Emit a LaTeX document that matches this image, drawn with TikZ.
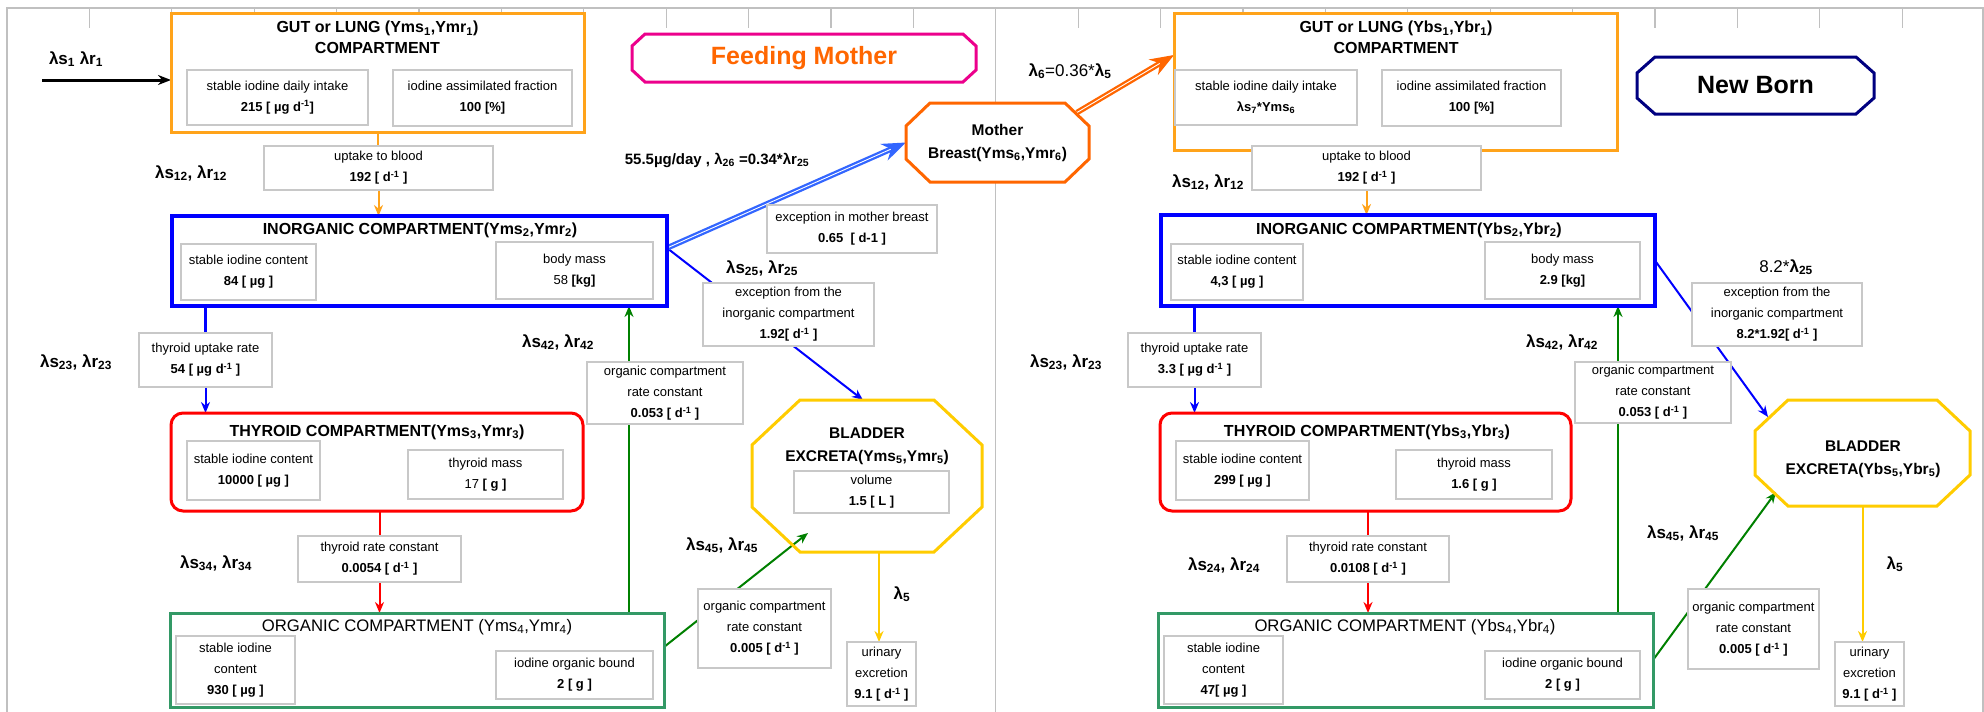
\documentclass[tikz,border=0pt]{standalone}
\usepackage{fontspec}
\setmainfont{Liberation Sans}
\usetikzlibrary{arrows.meta}
\pgfdeclarelayer{bg}
\pgfsetlayers{bg,main}
\definecolor{gutor}{RGB}{255,163,26}
\definecolor{inblue}{RGB}{0,0,255}
\definecolor{thyred}{RGB}{255,0,0}
\definecolor{orggreen}{RGB}{51,153,102}
\definecolor{arrgreen}{RGB}{0,128,0}
\definecolor{mumor}{RGB}{255,102,0}
\definecolor{brblue}{RGB}{51,102,255}
\definecolor{bladyel}{RGB}{255,204,0}
\definecolor{nbnavy}{RGB}{0,0,128}
\definecolor{gridgray}{RGB}{192,192,192}
\definecolor{boxgray}{RGB}{200,200,200}
\newcommand{\dinv}{d\textsuperscript{-1}}
% octagon drawn round an (empty) node: node, chamfer x, chamfer y, style
\newcommand{\octshape}[4]{%
\draw[#4] ([xshift=#2]#1.north west) -- ([xshift=-#2]#1.north east)
  -- ([yshift=-#3]#1.north east) -- ([yshift=#3]#1.south east)
  -- ([xshift=-#2]#1.south east) -- ([xshift=#2]#1.south west)
  -- ([yshift=#3]#1.south west) -- ([yshift=-#3]#1.north west) -- cycle;}
\begin{document}
\begin{tikzpicture}[x=1pt,y=-1pt,inner sep=0pt,outer sep=0pt,
comp/.style={draw,rectangle,fill=white,line width=3pt},
ttl/.style={align=center,font=\bfseries\fontsize{16}{21}\selectfont},
sbox/.style={draw=boxgray,fill=white,line width=1.2pt,align=center,font=\fontsize{13}{21}\selectfont},
lab/.style={font=\bfseries\fontsize{17}{18}\selectfont},
octtxt/.style={align=center,font=\bfseries\fontsize{15.5}{23}\selectfont},
flow/.style={line width=2pt,-{Stealth[length=11pt,width=9pt]}},
dbl/.style={line width=2.3pt,double=white,double distance=0.9pt,-{Stealth[length=24pt,width=18pt]}},
ruler/.style={draw=gridgray,line width=1.2pt}]
\useasboundingbox (0,0) rectangle (1984,712);

% ---- feeding mother ----
\draw (377.5,72.5) node[comp,draw=gutor,minimum width=413pt,minimum height=119pt] (gutL) {};
\draw (377.5,37.5) node[ttl] (gutLt) {GUT or LUNG (Yms\textsubscript{1},Ymr\textsubscript{1})\\COMPARTMENT};
\draw (277.5,97.5) node[sbox,minimum width=181pt,minimum height=55pt] (gutLa) {stable iodine daily intake\\\textbf{215 [ µg \dinv]}};
\draw (482.5,98) node[sbox,minimum width=179pt,minimum height=56pt] (gutLb) {iodine assimilated fraction\\\textbf{100 [\%]}};
\draw (76,59) node[lab] (l1L) {λs\textsubscript{1} λr\textsubscript{1}};

\draw (378.5,168) node[sbox,minimum width=229pt,minimum height=44pt] (upL) {uptake to blood\\\textbf{192 [ \dinv{} ]}};
\draw (191,173) node[lab] (l12L) {λs\textsubscript{12}, λr\textsubscript{12}};

\draw (419.5,261) node[comp,draw=inblue,line width=4pt,minimum width=495pt,minimum height=90pt] (inorgL) {};
\draw (420,230) node[ttl] (inorgLt) {INORGANIC COMPARTMENT(Yms\textsubscript{2},Ymr\textsubscript{2})};
\draw (248.5,272) node[sbox,minimum width=135pt,minimum height=56pt] (inorgLa) {stable iodine content\\\textbf{84 [ µg ]}};
\draw (574.5,270.5) node[sbox,minimum width=157pt,minimum height=57pt] (inorgLb) {body mass\\58 \textbf{[kg]}};

\draw (205.5,360) node[sbox,minimum width=133pt,minimum height=54pt] (thyupL) {thyroid uptake rate\\\textbf{54 [ µg \dinv{} ]}};
\draw (76,362) node[lab] (l23L) {λs\textsubscript{23}, λr\textsubscript{23}};

\draw (377,462) node[comp,draw=thyred,rounded corners=12pt,minimum width=412pt,minimum height=98pt] (thyL) {};
\draw (377,432) node[ttl] (thyLt) {THYROID COMPARTMENT(Yms\textsubscript{3},Ymr\textsubscript{3})};
\draw (253.5,470.5) node[sbox,minimum width=133pt,minimum height=59pt] (thyLa) {stable iodine content\\\textbf{10000 [ µg ]}};
\draw (485.5,474.5) node[sbox,minimum width=155pt,minimum height=49pt] (thyLb) {thyroid mass\\17 \textbf{[ g ]}};

\draw (379.5,559) node[sbox,minimum width=163pt,minimum height=46pt] (thyrcL) {thyroid rate constant\\\textbf{0.0054 [ \dinv{} ]}};
\draw (216,563) node[lab] (l34L) {λs\textsubscript{34}, λr\textsubscript{34}};

\draw (417,660) node[comp,draw=orggreen,minimum width=494pt,minimum height=94pt] (orgL) {};
\draw (417,627) node[ttl,font=\fontsize{16.7}{21}\selectfont] (orgLt) {ORGANIC COMPARTMENT (Yms\textsubscript{4},Ymr\textsubscript{4})};
\draw (235.5,670) node[sbox,minimum width=119pt,minimum height=68pt] (orgLa) {stable iodine\\content\\\textbf{930 [ µg ]}};
\draw (574.5,675) node[sbox,minimum width=157pt,minimum height=48pt] (orgLb) {iodine organic bound\\\textbf{2 [ g ]}};

\draw (665,393) node[sbox,minimum width=156pt,minimum height=62pt] (orcL) {organic compartment\\rate constant\\\textbf{0.053 [ \dinv{} ]}};
\draw (558,342) node[lab] (l42L) {λs\textsubscript{42}, λr\textsubscript{42}};

\draw (804,58) node[minimum width=344pt,minimum height=48pt] (feed) {};
\octshape{feed}{13pt}{12pt}{draw=magenta,fill=white,line width=3pt}
\draw (feed) node[text=mumor,font=\bfseries\fontsize{25}{25}\selectfont] (feedT) {Feeding Mother};

\draw (997.5,142.5) node[minimum width=183pt,minimum height=79pt] (breast) {};
\octshape{breast}{24pt}{23pt}{draw=mumor,fill=white,line width=3pt}
\draw (breast) node[octtxt] (breastT) {Mother\\Breast(Yms\textsubscript{6},Ymr\textsubscript{6})};
\draw (717,160) node[lab,font=\bfseries\fontsize{15}{18}\selectfont] (l26L) {55.5µg/day , λ\textsubscript{26} =0.34*λr\textsubscript{25}};
\draw (852,229) node[sbox,minimum width=170pt,minimum height=48pt] (mbx) {exception in mother breast\\\textbf{0.65~~[ d-1 ]}};

\draw (788.5,314.5) node[sbox,minimum width=171pt,minimum height=63pt] (exL) {exception from the\\inorganic compartment\\\textbf{1.92[ \dinv{} ]}};
\draw (762,268) node[lab] (l25L) {λs\textsubscript{25}, λr\textsubscript{25}};

\draw (867,476) node[minimum width=230pt,minimum height=152pt] (bladL) {};
\octshape{bladL}{48pt}{45pt}{draw=bladyel,line width=3pt}
\draw (867,446) node[octtxt] (bladLt) {BLADDER\\EXCRETA(Yms\textsubscript{5},Ymr\textsubscript{5})};
\draw (871.5,492) node[sbox,minimum width=155pt,minimum height=42pt] (volL) {volume\\\textbf{1.5 [ L ]}};

\draw (764.5,628.5) node[sbox,minimum width=133pt,minimum height=79pt] (orc2L) {organic compartment\\rate constant\\\textbf{0.005 [ \dinv{} ]}};
\draw (722,545) node[lab] (l45L) {λs\textsubscript{45}, λr\textsubscript{45}};
\draw (881.5,674) node[sbox,minimum width=69pt,minimum height=64pt] (urL) {urinary\\excretion\\\textbf{9.1 [ \dinv{} ]}};
\draw (902,594) node[lab] (l5L) {λ\textsubscript{5}};

% ---- new born ----
\draw (1395.5,81.5) node[comp,draw=gutor,minimum width=443pt,minimum height=137pt] (gutR) {};
\draw (1396,37.5) node[ttl] (gutRt) {GUT or LUNG (Ybs\textsubscript{1},Ybr\textsubscript{1})\\COMPARTMENT};
\draw (1266,97.5) node[sbox,minimum width=182pt,minimum height=55pt] (gutRa) {stable iodine daily intake\\\textbf{λs\textsubscript{7}*Yms\textsubscript{6}}};
\draw (1471.5,98) node[sbox,minimum width=179pt,minimum height=56pt] (gutRb) {iodine assimilated fraction\\\textbf{100 [\%]}};
\draw (1070,71) node[font=\fontsize{17}{18}\selectfont] (l6R) {\textbf{λ\textsubscript{6}}=0.36*\textbf{λ\textsubscript{5}}};

\draw (1755.5,85.5) node[minimum width=237pt,minimum height=57pt] (born) {};
\octshape{born}{18pt}{16pt}{draw=nbnavy,fill=white,line width=3pt}
\draw (born) node[font=\bfseries\fontsize{25}{25}\selectfont] (bornT) {New Born};

\draw (1366.5,168) node[sbox,minimum width=229pt,minimum height=44pt] (upR) {uptake to blood\\\textbf{192 [ \dinv{} ]}};
\draw (1208,182) node[lab] (l12R) {λs\textsubscript{12}, λr\textsubscript{12}};

\draw (1408,260.5) node[comp,draw=inblue,line width=4pt,minimum width=494pt,minimum height=91pt] (inorgR) {};
\draw (1409,230) node[ttl] (inorgRt) {INORGANIC COMPARTMENT(Ybs\textsubscript{2},Ybr\textsubscript{2})};
\draw (1237,272) node[sbox,minimum width=132pt,minimum height=56pt] (inorgRa) {stable iodine content\\\textbf{4,3 [ µg ]}};
\draw (1562.5,270.5) node[sbox,minimum width=155pt,minimum height=57pt] (inorgRb) {body mass\\\textbf{2.9 [kg]}};

\draw (1194.5,360) node[sbox,minimum width=133pt,minimum height=54pt] (thyupR) {thyroid uptake rate\\\textbf{3.3 [ µg \dinv{} ]}};
\draw (1066,362) node[lab] (l23R) {λs\textsubscript{23}, λr\textsubscript{23}};

\draw (1365.5,462) node[comp,draw=thyred,rounded corners=12pt,minimum width=411pt,minimum height=98pt] (thyR) {};
\draw (1367,432) node[ttl] (thyRt) {THYROID COMPARTMENT(Ybs\textsubscript{3},Ybr\textsubscript{3})};
\draw (1242.5,470.5) node[sbox,minimum width=133pt,minimum height=59pt] (thyRa) {stable iodine content\\\textbf{299 [ µg ]}};
\draw (1474,474.5) node[sbox,minimum width=156pt,minimum height=49pt] (thyRb) {thyroid mass\\\textbf{1.6 [ g ]}};

\draw (1368,559) node[sbox,minimum width=162pt,minimum height=46pt] (thyrcR) {thyroid rate constant\\\textbf{0.0108 [ \dinv{} ]}};
\draw (1224,565) node[lab] (l24R) {λs\textsubscript{24}, λr\textsubscript{24}};

\draw (1405.5,660) node[comp,draw=orggreen,minimum width=495pt,minimum height=94pt] (orgR) {};
\draw (1405,627) node[ttl,font=\fontsize{16.7}{21}\selectfont] (orgRt) {ORGANIC COMPARTMENT (Ybs\textsubscript{4},Ybr\textsubscript{4})};
\draw (1223.5,670) node[sbox,minimum width=119pt,minimum height=68pt] (orgRa) {stable iodine\\content\\\textbf{47[ µg ]}};
\draw (1562.5,675) node[sbox,minimum width=155pt,minimum height=48pt] (orgRb) {iodine organic bound\\\textbf{2 [ g ]}};

\draw (1653,392.5) node[sbox,minimum width=156pt,minimum height=61pt] (orcR) {organic compartment\\rate constant\\\textbf{0.053 [ \dinv{} ]}};
\draw (1562,342) node[lab] (l42R) {λs\textsubscript{42}, λr\textsubscript{42}};

\draw (1777,314.5) node[sbox,minimum width=170pt,minimum height=63pt] (exR) {exception from the\\inorganic compartment\\\textbf{8.2*1.92[ \dinv{} ]}};
\draw (1786,267) node[font=\fontsize{17}{18}\selectfont] (l25R) {8.2*\textbf{λ\textsubscript{25}}};

\draw (1862.5,453) node[minimum width=215pt,minimum height=106pt] (bladR) {};
\octshape{bladR}{33pt}{31pt}{draw=bladyel,line width=3pt}
\draw (1863,459) node[octtxt] (bladRt) {BLADDER\\EXCRETA(Ybs\textsubscript{5},Ybr\textsubscript{5})};

\draw (1753.5,629) node[sbox,minimum width=131pt,minimum height=80pt] (orc2R) {organic compartment\\rate constant\\\textbf{0.005 [ \dinv{} ]}};
\draw (1683,533) node[lab] (l45R) {λs\textsubscript{45}, λr\textsubscript{45}};
\draw (1869.5,674) node[sbox,minimum width=69pt,minimum height=64pt] (urR) {urinary\\excretion\\\textbf{9.1 [ \dinv{} ]}};
\draw (1895,564) node[lab] (l5R) {λ\textsubscript{5}};

\begin{pgfonlayer}{bg}
\fill[white] (0,0) rectangle (1984,712);
\draw[ruler] (7,712) -- (7,8) -- (1983,8) -- (1983,712);
\draw[ruler] (995.5,8) -- (995.5,712);
\foreach \k in {1,...,11,13,14,...,23}
  \draw[ruler] ({7+82.4*\k},8) -- ({7+82.4*\k},28);
% feeding mother flows
\coordinate (inL) at (42,80);
\draw[line width=3pt,-{Stealth[length=13pt,width=10pt]}] (inL) -- (inL -| gutL.west);
\draw[line width=2pt,gutor] (gutL.south) -- (gutL.south |- upL.north);
\draw[flow,gutor] (upL.south) -- (upL.south |- inorgL.north);
\draw[line width=2.5pt,inblue] (inorgL.south -| thyupL) -- (thyupL.north);
\draw[flow,inblue] (thyupL.south) -- (thyupL.south |- thyL.north);
\draw[line width=2pt,thyred] (thyL.south -| thyrcL) -- (thyrcL.north);
\draw[flow,thyred] (thyrcL.south) -- (thyrcL.south |- orgL.north);
\coordinate (g42L) at ([xshift=-35pt]orgL.north east);
\draw[flow,arrgreen] (g42L) -- (g42L |- inorgL.south);
\coordinate (p25L) at ([yshift=13pt]inorgL.east);
\draw[flow,inblue] (p25L) -- ([xshift=-4pt]bladL.north);
\draw[dbl,brblue] (p25L) -- (breast.west);
\draw[flow,arrgreen] ([yshift=13pt]orgL.east) -- ([xshift=56pt,yshift=19pt]bladL.south west);
\coordinate (y5L) at ([xshift=12pt]bladL.south);
\draw[flow,bladyel] (y5L) -- (y5L |- urL.north);
% new born flows
\draw[dbl,mumor] ([xshift=-12pt,yshift=30pt]breast.east) -- ([yshift=26.5pt]gutR.west);
\draw[line width=2pt,gutor] ([yshift=13pt]upR.north) -- (upR.north);
\draw[flow,gutor] (upR.south) -- (upR.south |- inorgR.north);
\draw[line width=2.5pt,inblue] (inorgR.south -| thyupR) -- (thyupR.north);
\draw[flow,inblue] (thyupR.south) -- (thyupR.south |- thyR.north);
\draw[line width=2pt,thyred] (thyR.south -| thyrcR) -- (thyrcR.north);
\draw[flow,thyred] (thyrcR.south) -- (thyrcR.south |- orgR.north);
\coordinate (g42R) at ([xshift=-35pt]orgR.north east);
\draw[flow,arrgreen] (g42R) -- (g42R |- inorgR.south);
\draw[flow,inblue] (inorgR.east) -- ([xshift=13pt,yshift=-17pt]bladR.north west);
\draw[flow,arrgreen] (orgR.east) -- ([xshift=21pt,yshift=14pt]bladR.south west);
\draw[flow,bladyel] (bladR.south) -- (bladR.south |- urR.north);
\end{pgfonlayer}
\end{tikzpicture}
\end{document}
